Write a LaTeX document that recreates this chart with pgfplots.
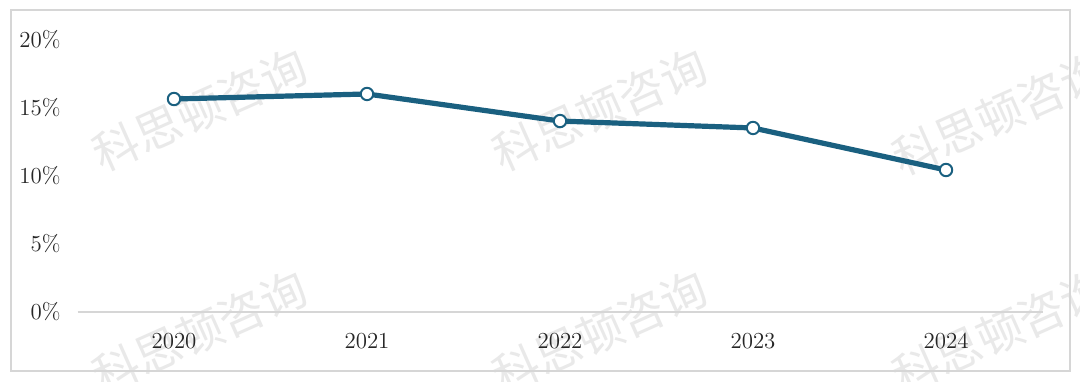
\documentclass[border=0pt]{standalone}
\usepackage{pgfplots}
\pgfplotsset{compat=1.18}
\usepackage{fontspec}
\newfontfamily\cjk{Noto Sans CJK SC}
\definecolor{lineblue}{RGB}{26,96,128}
\definecolor{wm}{RGB}{233,233,233}
\definecolor{frame}{RGB}{214,214,214}
\begin{document}
\begin{tikzpicture}[x=0.5bp,y=0.5bp]
\clip (0,0) rectangle (1080,382);
\fill[white] (0,0) rectangle (1080,382);
% watermarks
\foreach \cx/\cy in {200/272, 200/50, 600/272, 600/50, 1000/268, 1000/50}{
  \node[rotate=24, text=wm, font=\cjk\fontsize{23}{26}\selectfont, inner sep=0pt] at (\cx,\cy) {科思顿咨询};
}
\draw[frame, line width=1bp] (10.5,10.5) rectangle (1069.5,371.5);
\begin{axis}[
  at={(38.75bp,35bp)}, anchor=south west,
  scale only axis,
  width=482.5bp, height=136bp,
  xmin=-0.5, xmax=4.5, ymin=0, ymax=20,
  axis x line=bottom, axis y line=left,
  x axis line style={draw=frame, line width=0.9bp, -},
  y axis line style={draw=none},
  xtick={0,1,2,3,4},
  xticklabels={2020,2021,2022,2023,2024},
  ytick={0,5,10,15,20},
  yticklabels={0\%,5\%,10\%,15\%,20\%},
  major tick length=0pt,
  tick label style={font=\fontsize{11.5}{13}\selectfont, text=black!85},
  xticklabel style={yshift=-7bp},
  yticklabel style={anchor=east, xshift=-5bp},
  clip=false,
]
\addplot[lineblue, line width=2.6bp, mark=*, mark size=3.1bp,
  mark options={fill=white, draw=lineblue, line width=1bp}]
  coordinates {(0,15.66) (1,16.03) (2,14.04) (3,13.53) (4,10.44)};
\end{axis}
\end{tikzpicture}
\end{document}
